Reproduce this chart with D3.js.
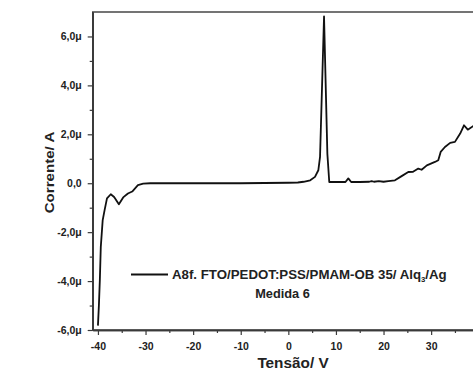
<!DOCTYPE html>
<html>
<head>
<meta charset="utf-8">
<script src="https://cdn.jsdelivr.net/npm/d3@7"></script>
<style>
  html, body { margin: 0; padding: 0; background: #ffffff; }
  svg { display: block; font-family: Arial, "Liberation Sans", sans-serif; }
</style>
</head>
<body>
<svg id="chart" width="473" height="371"></svg>
<script>
// I–V sweep of the device (voltage in V, current in µA)
const voltage = [-40.0, -39.8, -39.6, -39.4, -39.0, -38.6, -38.1, -37.3, -36.6, -35.6, -34.7, -33.7, -32.8, -31.6, -30.5,
  -29, -25, -20, -15, -10, -5, 0, 2, 3.2, 4.6, 5.6, 6.3, 6.66, 7.5, 8.2, 8.6,
  10, 12.0, 12.6, 13.2, 15, 17, 17.5, 18, 19, 20, 21, 22.4, 23.8, 25.2, 26.2, 27.3, 28.0, 29.1,
  30.8, 31.5, 32.0, 32.9, 34.0, 35.0, 36.1, 36.9, 37.7, 38.8, 39.5, 40.0];
const current = [-5.82, -5.0, -3.96, -2.6, -1.51, -1.1, -0.62, -0.45, -0.56, -0.86, -0.58, -0.42, -0.34, -0.08, -0.02,
  0.0, 0.0, 0.0, 0.0, 0.0, 0.01, 0.02, 0.03, 0.06, 0.12, 0.26, 0.53, 1.08, 6.82, 1.2, 0.05,
  0.05, 0.05, 0.2, 0.05, 0.05, 0.06, 0.09, 0.06, 0.09, 0.06, 0.09, 0.12, 0.29, 0.46, 0.47, 0.6, 0.55, 0.73,
  0.87, 0.94, 1.28, 1.48, 1.65, 1.69, 2.03, 2.37, 2.19, 2.33, 2.45, 2.55];

const xTicks = [-40, -30, -20, -10, 0, 10, 20, 30, 40];
const xMinorTicks = [-35, -25, -15, -5, 5, 15, 25, 35];
const yTicks = [-6, -4, -2, 0, 2, 4, 6];
const yMinorTicks = [-5, -3, -1, 1, 3, 5];

const legendText = "A8f. FTO/PEDOT:PSS/PMAM-OB 35/ Alq";
const legendSub = "3";
const legendTail = "/Ag";
const legendLine2 = "Medida 6";
const xTitle = "Tensão/ V";
const yTitle = "Corrente/ A";

const svg = d3.select("#chart");
const plotLeft = 92.7, plotTop = 12, plotBottom = 330;
const x = d3.scaleLinear().domain([-41.1, 41.3]).range([plotLeft, plotLeft + 82.4 * 4.76]);
const y = d3.scaleLinear().domain([-6, 7]).range([plotBottom, plotTop]);

const axisColor = "#3a3a3a";
const textColor = "#222";
const fmtY = v => v === 0 ? "0,0" : (v < 0 ? "-" : "") + Math.abs(v).toFixed(1).replace(".", ",") + "μ";

// widen a text block horizontally (in its own frame) to a given width
function fitWidth(g, width) {
  const w = g.node().getBBox().width;
  if (w > 0) g.attr("transform", g.attr("transform") + ` scale(${width / w},1)`);
}

// frame
svg.append("rect")
  .attr("x", x.range()[0]).attr("y", plotTop)
  .attr("width", x.range()[1] - x.range()[0]).attr("height", plotBottom - plotTop)
  .attr("fill", "none").attr("stroke", axisColor).attr("stroke-width", 1.4);

// x axis
const gx = svg.append("g").attr("transform", `translate(0,${plotBottom})`);
gx.call(d3.axisBottom(x).tickValues(xTicks).tickSize(5).tickSizeOuter(0).tickPadding(8)
  .tickFormat(d => (d < 0 ? "-" : "") + Math.abs(d)));
gx.append("g").call(d3.axisBottom(x).tickValues(xMinorTicks).tickSize(3).tickSizeOuter(0).tickFormat(""));
gx.selectAll("path.domain").attr("stroke", axisColor).attr("stroke-width", 1.4);
gx.selectAll("line").attr("stroke", axisColor).attr("stroke-width", 1.2);
gx.selectAll("text").attr("font-size", 10.5).attr("font-weight", "bold").attr("fill", textColor);

// y axis
const gy = svg.append("g").attr("transform", `translate(${plotLeft},0)`);
gy.call(d3.axisLeft(y).tickValues(yTicks).tickSize(5).tickSizeOuter(0).tickPadding(6).tickFormat(fmtY));
gy.append("g").call(d3.axisLeft(y).tickValues(yMinorTicks).tickSize(3).tickSizeOuter(0).tickFormat(""));
gy.selectAll("path.domain").attr("stroke", axisColor).attr("stroke-width", 1.4);
gy.selectAll("line").attr("stroke", axisColor).attr("stroke-width", 1.2);
gy.selectAll("text").attr("font-size", 10.5).attr("font-weight", "bold").attr("fill", textColor);

// axis titles
const xt = svg.append("g").attr("transform", "translate(293,368)");
xt.append("text").attr("text-anchor", "middle")
  .attr("font-size", 14).attr("font-weight", "bold").attr("fill", textColor).text(xTitle);
fitWidth(xt, 72);
const yt = svg.append("g").attr("transform", "translate(54,172.5) rotate(-90)");
yt.append("text").attr("text-anchor", "middle")
  .attr("font-size", 13.5).attr("font-weight", "bold").attr("fill", textColor).text(yTitle);
fitWidth(yt, 82);

// data curve
const pts = voltage.map((v, i) => [v, current[i]]);
svg.append("path").datum(pts)
  .attr("fill", "none").attr("stroke", "#111").attr("stroke-width", 1.8).attr("stroke-linejoin", "round")
  .attr("d", d3.line().x(d => x(d[0])).y(d => y(d[1])));

// legend
svg.append("line").attr("x1", 131).attr("x2", 168).attr("y1", 274.5).attr("y2", 274.5)
  .attr("stroke", "#111").attr("stroke-width", 1.8);
const lg = svg.append("g").attr("transform", "translate(172,279)");
const lt = lg.append("text").attr("font-size", 12).attr("font-weight", "bold").attr("fill", textColor);
lt.append("tspan").text(legendText);
lt.append("tspan").attr("font-size", 7).attr("dy", 3).text(legendSub);
lt.append("tspan").attr("dy", -3).text(legendTail);
fitWidth(lg, 275);
const lg2 = svg.append("g").attr("transform", "translate(282.5,298.3)");
lg2.append("text").attr("text-anchor", "middle")
  .attr("font-size", 12).attr("font-weight", "bold").attr("fill", textColor).text(legendLine2);
fitWidth(lg2, 55);
</script>
</body>
</html>
